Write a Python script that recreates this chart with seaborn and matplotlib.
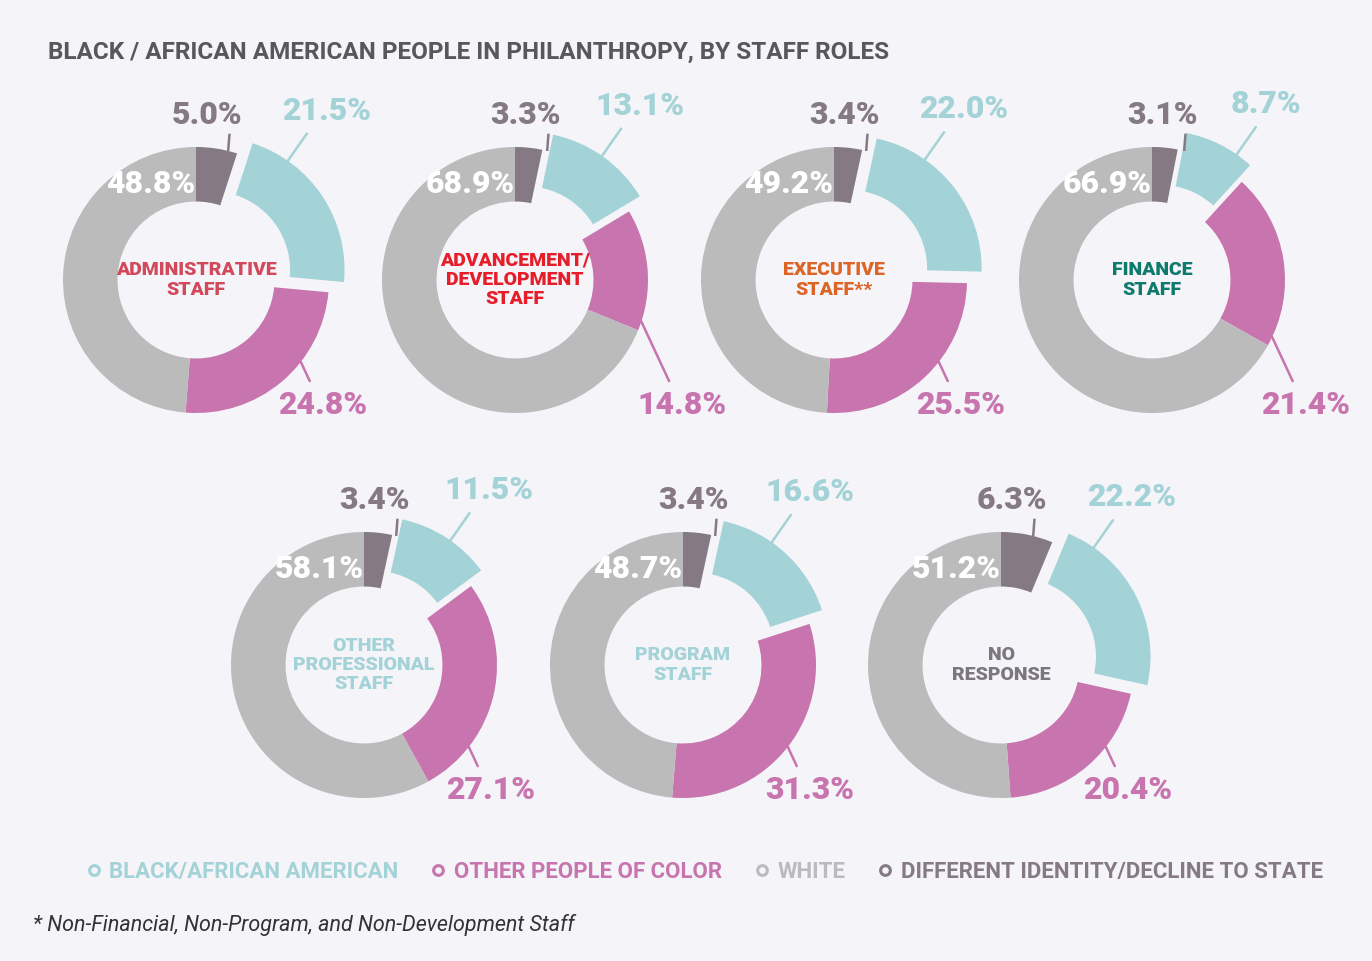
"""
Donut charts: Black / African American people in philanthropy, by staff roles.
"""

import numpy as np
import matplotlib.pyplot as plt
from matplotlib.lines import Line2D
import seaborn as sns

sns.set_theme(style = "white")
plt.rcParams["font.family"] = ["Roboto", "DejaVu Sans"]

# Data (percent of staff).
roles = ["ADMINISTRATIVE\nSTAFF", "ADVANCEMENT/\nDEVELOPMENT\nSTAFF", "EXECUTIVE\nSTAFF**",
         "FINANCE\nSTAFF", "OTHER\nPROFESSIONAL\nSTAFF", "PROGRAM\nSTAFF", "NO\nRESPONSE"]
black = [21.5, 13.1, 22.0, 8.7, 11.5, 16.6, 22.2]
other_poc = [24.8, 14.8, 25.5, 21.4, 27.1, 31.3, 20.4]
white = [48.8, 68.9, 49.2, 66.9, 58.1, 48.7, 51.2]
different = [5.0, 3.3, 3.4, 3.1, 3.4, 3.4, 6.3]
legend_labels = ["BLACK/AFRICAN AMERICAN", "OTHER PEOPLE OF COLOR", "WHITE",
                 "DIFFERENT IDENTITY/DECLINE TO STATE"]

# Colours
c_black = "#a3d3d7"
c_poc = "#c874ae"
c_white = "#bbbbbb"
c_diff = "#857a84"
role_colors = ["#d1495b", "#e61e2a", "#dc6526", "#0d7a6c", "#a3d3d7", "#a3d3d7", "#7c7680"]
bg = "#f4f4f9"

W, H = 1372, 961
R_PX = 133
LIM = 1.6
centers = [(196, 280), (515, 280), (834, 280), (1152, 280),
           (364, 665), (683, 665), (1001, 665)]
EXPLODE = 0.14
RING = 0.41

fig = plt.figure(figsize = (W / 100, H / 100), dpi = 100)
fig.patch.set_facecolor(bg)


def pos(angle, r = 1.0):
    # angle measured clockwise from 12 o'clock, in degrees
    a = np.deg2rad(angle)
    return np.array([r * np.sin(a), r * np.cos(a)])


val_font = dict(fontsize = 23, fontweight = "black")

for i, (cx, cy) in enumerate(centers):
    size = 2 * LIM * R_PX
    ax = fig.add_axes([(cx - size / 2) / W, (H - cy - size / 2) / H, size / W, size / H])

    vals = [different[i], black[i], other_poc[i], white[i]]
    ax.pie(vals, colors = [c_diff, c_black, c_poc, c_white], startangle = 90, counterclock = False,
           explode = [0, EXPLODE, 0, 0], radius = 1, wedgeprops = dict(width = RING, edgecolor = "none"))
    ax.set_xlim(-LIM, LIM)
    ax.set_ylim(-LIM, LIM)
    ax.set_aspect("equal")
    ax.axis("off")

    total = sum(vals)
    bounds = np.cumsum([0] + vals) / total * 360
    b_start, b_end = bounds[1], bounds[2]
    p_end = bounds[3]

    # Different identity label (short line up)
    p0 = pos(14, 1.0)
    p1 = np.array([p0[0] + 0.01, 1.1])
    ax.plot([p0[0], p1[0]], [p0[1], p1[1]], color = c_diff, lw = 1.8, solid_capstyle = "butt")
    ax.text(p1[0] - 0.17, p1[1] + 0.03, f"{different[i]:.1f}%", color = c_diff,
            ha = "center", va = "bottom", **val_font)

    # Black / African American label (exploded wedge)
    shift = pos((b_start + b_end) / 2, EXPLODE)
    p0 = shift + pos(np.clip(35, b_start + 3, b_end - 3))
    p1 = p0 + pos(35, 0.25)
    ax.plot([p0[0], p1[0]], [p0[1], p1[1]], color = c_black, lw = 1.8)
    ax.text(p1[0] - 0.19, p1[1] + 0.06, f"{black[i]:.1f}%", color = c_black,
            ha = "left", va = "bottom", **val_font)

    # Other people of colour label (line down to a common level)
    a = min(128, p_end - 4)
    p0 = pos(a)
    y1 = -0.76
    p1 = np.array([p0[0] + (p0[1] - y1) * np.tan(np.deg2rad(25)), y1])
    ax.plot([p0[0], p1[0]], [p0[1], p1[1]], color = c_poc, lw = 1.8)
    ax.text(p1[0] + 0.1, p1[1] - 0.07, f"{other_poc[i]:.1f}%", color = c_poc,
            ha = "center", va = "top", **val_font)

    # White label, inside the ring
    pw = pos(335, 0.8)
    ax.text(pw[0], pw[1], f"{white[i]:.1f}%", color = "white", ha = "center", va = "center", **val_font)

    # Role name in the middle
    ax.text(0, 0, roles[i], color = role_colors[i], ha = "center", va = "center",
            fontsize = 14, fontweight = "black", linespacing = 1.1)

# Title
fig.text(48 / W, 1 - 52 / H, "BLACK / AFRICAN AMERICAN PEOPLE IN PHILANTHROPY, BY STAFF ROLES",
         color = "#58585b", fontsize = 17.5, fontweight = "bold", ha = "left", va = "center")

# Legend
handles = [Line2D([], [], marker = "o", linestyle = "none", markerfacecolor = "none",
                  markeredgecolor = c, markeredgewidth = 2.2, markersize = 7)
           for c in [c_black, c_poc, c_white, c_diff]]
leg = fig.legend(handles, legend_labels, ncol = 4, loc = "center", bbox_to_anchor = (705 / W, 1 - 872 / H),
                 frameon = False, handlelength = 0.6, handletextpad = 0.4, columnspacing = 1.5,
                 prop = dict(family = "Roboto", weight = "bold", size = 16))
for t, c in zip(leg.get_texts(), [c_black, c_poc, c_white, c_diff]):
    t.set_color(c)

# Footnote
fig.text(33 / W, 1 - 925 / H, "* Non-Financial, Non-Program, and Non-Development Staff",
         color = "#333333", fontsize = 15.5, style = "italic",
         ha = "left", va = "center")

plt.savefig("out.png", dpi = 100, facecolor = bg)
